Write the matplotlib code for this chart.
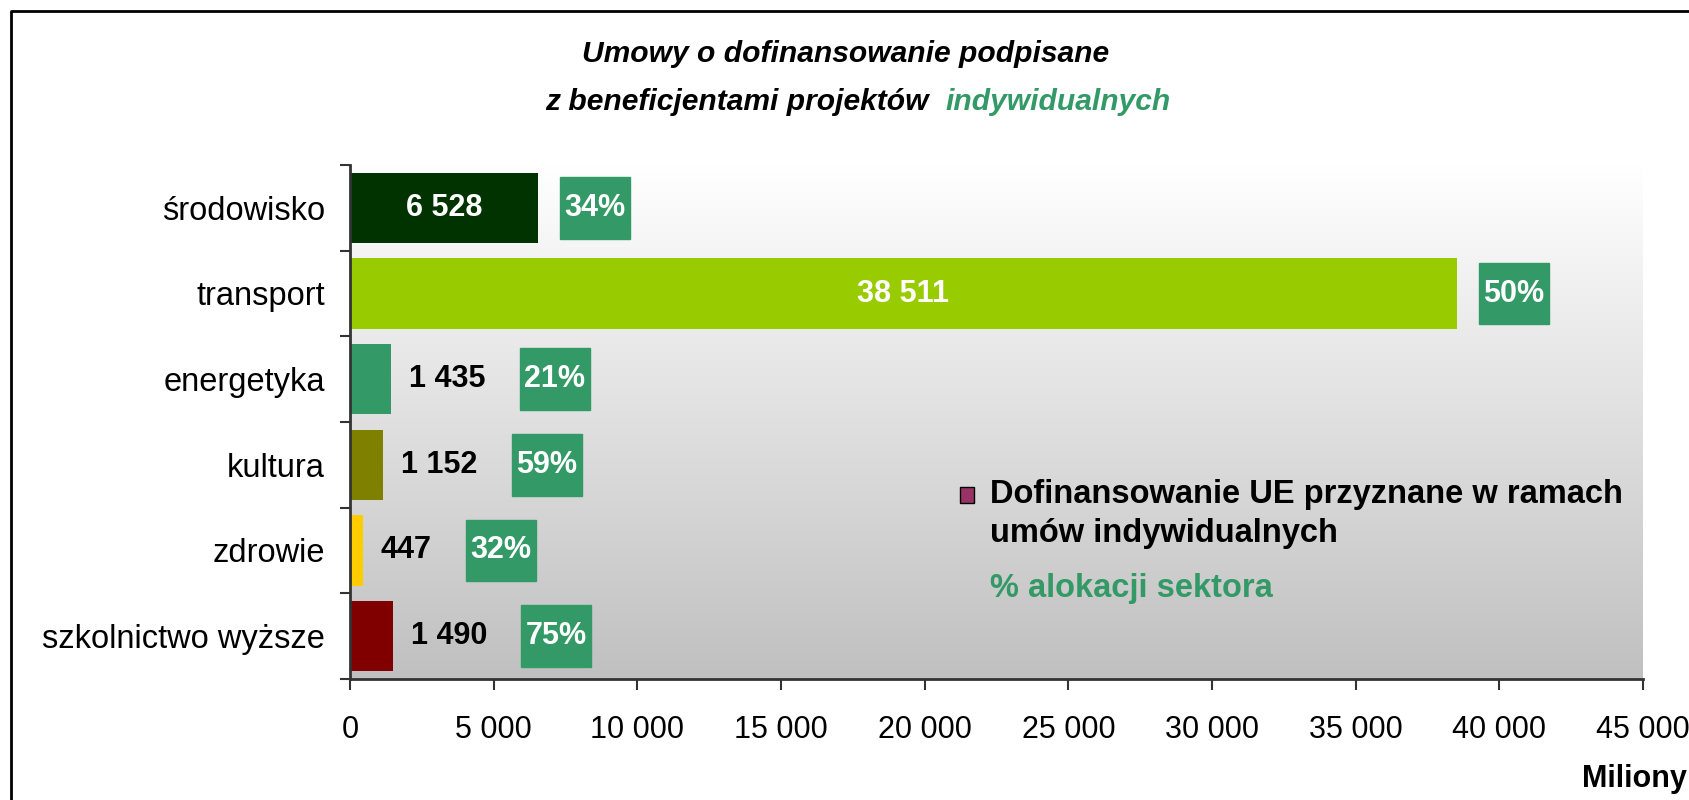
import numpy as np
import matplotlib.pyplot as plt
from matplotlib.patches import Rectangle
from matplotlib.lines import Line2D
from matplotlib.colors import LinearSegmentedColormap

plt.rcParams['font.family'] = ['Liberation Sans', 'DejaVu Sans']

# data
categories = ['środowisko', 'transport', 'energetyka', 'kultura', 'zdrowie',
              'szkolnictwo wyższe']
values = [6528, 38511, 1435, 1152, 447, 1490]
shares = [34, 50, 21, 59, 32, 75]
bar_colors = ['#003300', '#99cc00', '#339966', '#808000', '#ffcc00', '#800000']
x_ticks = [0, 5000, 10000, 15000, 20000, 25000, 30000, 35000, 40000, 45000]

GREEN = '#339966'
W, H = 1690, 800
FS = 22
TFS = 21.6


def fmt(v):
    return f'{v:,}'.replace(',', ' ')


fig = plt.figure(figsize=(W / 100, H / 100), dpi=100)
ax = fig.add_axes([350 / W, 1 - 679 / H, (1643 - 350) / W, (679 - 165) / H])

# gradient plot area, white at top to grey at bottom
bg = LinearSegmentedColormap.from_list('bg', ['#ffffff', '#c0c0c0'])
ax.imshow(np.linspace(0, 1, 256).reshape(-1, 1), cmap=bg, aspect='auto',
          extent=[0, 1, 0, 1], transform=ax.transAxes, zorder=0)

y = np.arange(len(categories))
ax.barh(y, values, height=0.82, color=bar_colors, zorder=2)
ax.set_xlim(0, 45000)
ax.set_ylim(len(categories) - 0.5, -0.5)

ax.set_yticks(np.arange(-0.5, len(categories)), labels=[])
ax.set_yticks(y, labels=categories, minor=True)
ax.tick_params(axis='y', which='major', length=7, width=1.5, color='#333333')
ax.tick_params(axis='y', which='minor', length=0, pad=18, labelsize=23.5)
ax.set_xticks(x_ticks, labels=[fmt(t) for t in x_ticks])
ax.tick_params(axis='x', length=8, width=1.5, color='#333333', pad=18,
               labelsize=FS)
for s in ['top', 'right']:
    ax.spines[s].set_visible(False)
for s in ['left', 'bottom']:
    ax.spines[s].set_color('#333333')
    ax.spines[s].set_linewidth(2)

# value labels
labels = []
for i, v in enumerate(values):
    if v > 5000:
        ax.text(v / 2, i, fmt(v), ha='center', va='center', color='white',
                fontsize=FS, fontweight='bold', zorder=4)
        labels.append(None)
    else:
        t = ax.annotate(fmt(v), (v, i), xytext=(13, 0),
                        textcoords='offset points', ha='left', va='center',
                        fontsize=FS, fontweight='bold', zorder=4)
        labels.append(t)

fig.canvas.draw()
inv = ax.transData.inverted()
for i, (v, p) in enumerate(zip(values, shares)):
    if labels[i] is None:
        left_px = ax.transData.transform((v, i))[0] + 22
    else:
        left_px = labels[i].get_window_extent().x1 + 34
    x0 = inv.transform((left_px, 0))[0]
    x1 = inv.transform((left_px + 70, 0))[0]
    ax.add_patch(Rectangle((x0, i - 0.36), x1 - x0, 0.72, color=GREEN,
                           zorder=3))
    ax.text((x0 + x1) / 2, i, f'{p}%', ha='center', va='center',
            color='white', fontsize=FS, fontweight='bold', zorder=4)

# title, second line has a green word
fig.text(846 / W, 1 - 54 / H, 'Umowy o dofinansowanie podpisane', ha='center',
         va='center', fontsize=TFS, fontweight='bold', fontstyle='italic')
t1 = fig.text(0, 1 - 102 / H, 'z beneficjentami projektów', ha='left',
              va='center', fontsize=TFS, fontweight='bold',
              fontstyle='italic')
t2 = fig.text(0, 1 - 102 / H, 'indywidualnych', ha='left', va='center',
              fontsize=TFS, fontweight='bold', fontstyle='italic',
              color=GREEN)
fig.canvas.draw()
w1 = t1.get_window_extent().width
w2 = t2.get_window_extent().width
gap = 16
start = 858 - (w1 + gap + w2) / 2
t1.set_x(start / W)
t2.set_x((start + w1 + gap) / W)

# legend
fig.add_artist(Rectangle((960 / W, 1 - 503 / H), 14 / W, 16 / H,
                         facecolor='#993366', edgecolor='black', lw=1,
                         transform=fig.transFigure))
fig.text(990 / W, 1 - 503 / H, 'Dofinansowanie UE przyznane w ramach',
         va='baseline', fontsize=23.5, fontweight='bold')
fig.text(990 / W, 1 - 542 / H, 'umów indywidualnych', va='baseline',
         fontsize=23.5, fontweight='bold')
fig.text(990 / W, 1 - 597 / H, '% alokacji sektora', va='baseline',
         fontsize=23.5, fontweight='bold', color=GREEN)

fig.text(1687 / W, 1 - 779 / H, 'Miliony', ha='right', va='center',
         fontsize=FS, fontweight='bold')

# outer frame, cut at right and bottom
fig.add_artist(Line2D([11 / W, 11 / W, 1.0], [0.0, 1 - 11 / H, 1 - 11 / H],
                      color='black', lw=2, transform=fig.transFigure))

fig.savefig('out.png', dpi=100)
